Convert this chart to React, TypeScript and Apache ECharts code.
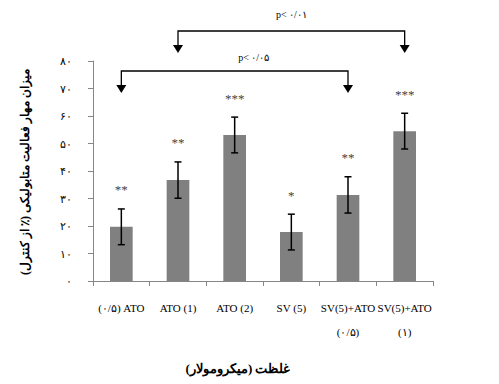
import React, { useEffect, useRef } from "react";
import * as echarts from "echarts";

const categories = ["\u200E(۰/۵) ATO", "ATO (1)", "ATO (2)", "SV (5)", "SV(5)+ATO\n\u200E(۰/۵)", "SV(5)+ATO\n\u200E(۱)"];
const means = [19.7, 36.7, 53.1, 17.8, 31.3, 54.5];
const errors = [6.5, 6.6, 6.5, 6.5, 6.6, 6.5];
const stars = ["**", "**", "***", "*", "**", "***"];
const yTickLabels = ["۰", "۱۰", "۲۰", "۳۰", "۴۰", "۵۰", "۶۰", "۷۰", "۸۰"];
const brackets = [
  { from: 1, to: 5, label: "p< ۰/۰۱", lineY: 31, textY: 14 },
  { from: 0, to: 4, label: "p< ۰/۰۵", lineY: 71, textY: 57 },
];
const yTitle = "میزان مهار فعالیت متابولیکی (٪ از کنترل)";
const xTitle = "غلظت (میکرومولار)";

const serif = "'Liberation Serif', 'DejaVu Serif', serif";

export default function App() {
  const ref = useRef<HTMLDivElement>(null);
  useEffect(() => {
    if (!ref.current) return;
    const chart = echarts.init(ref.current, undefined, { renderer: "svg" });
    chart.setOption({
      animation: false,
      backgroundColor: "#ffffff",
      grid: { left: 93, right: 66, top: 61, bottom: 103 },
      xAxis: {
        type: "category",
        data: categories,
        axisLine: { lineStyle: { color: "#868686", width: 1 } },
        axisTick: { show: true, length: 5, lineStyle: { color: "#868686" } },
        axisLabel: {
          interval: 0,
          margin: 15,
          fontFamily: serif,
          fontSize: 11,
          color: "#000",
          lineHeight: 24,
        },
      },
      yAxis: {
        type: "value",
        min: 0,
        max: 80,
        interval: 10,
        splitLine: { show: false },
        axisLine: { show: true, lineStyle: { color: "#868686", width: 1 } },
        axisTick: { show: true, length: 5, lineStyle: { color: "#868686" } },
        axisLabel: {
          margin: 21,
          fontFamily: serif,
          fontSize: 11,
          color: "#000",
          formatter: (v: number) => yTickLabels[Math.round(v / 10)] ?? String(v),
        },
      },
      series: [
        {
          type: "bar",
          data: means,
          barWidth: "40%",
          itemStyle: { color: "#808080" },
        },
        {
          type: "custom",
          data: means.map((m, i) => [i, m, errors[i]]),
          z: 10,
          renderItem: (params: any, api: any) => {
            const x = api.value(0);
            const m = api.value(1);
            const e = api.value(2);
            const top = api.coord([x, m + e]);
            const bot = api.coord([x, m - e]);
            const hw = 3.5;
            const style = { stroke: "#000", lineWidth: 1.5 };
            return {
              type: "group",
              children: [
                { type: "line", shape: { x1: top[0], y1: top[1], x2: bot[0], y2: bot[1] }, style },
                { type: "line", shape: { x1: top[0] - hw, y1: top[1], x2: top[0] + hw, y2: top[1] }, style },
                { type: "line", shape: { x1: bot[0] - hw, y1: bot[1], x2: bot[0] + hw, y2: bot[1] }, style },
                {
                  type: "text",
                  x: top[0],
                  y: top[1] - 19,
                  style: {
                    text: stars[params.dataIndex],
                    fontFamily: serif,
                    fontSize: 13,
                    fill: "#444",
                    align: "center",
                    verticalAlign: "middle",
                  },
                },
              ],
            };
          },
        },
      ],
    });

    const gfx: any[] = [];
    brackets.forEach((b) => {
      const x1 = chart.convertToPixel({ xAxisIndex: 0 }, b.from) as number;
      const x2 = chart.convertToPixel({ xAxisIndex: 0 }, b.to) as number;
      const tip = b.lineY + 22;
      const base = tip - 8;
      const ls = { stroke: "#000", lineWidth: 1.3 };
      gfx.push({ type: "polyline", shape: { points: [[x1, base], [x1, b.lineY], [x2, b.lineY], [x2, base]] }, style: { ...ls, fill: null } });
      [x1, x2].forEach((x) => {
        gfx.push({ type: "polygon", shape: { points: [[x - 5, base], [x + 5, base], [x, tip]] }, style: { fill: "#000" } });
      });
      gfx.push({
        type: "text",
        x: (x1 + x2) / 2 + (b.from === 0 ? 19 : 0),
        y: b.textY,
        style: { text: b.label, fontFamily: serif, fontSize: 10, fill: "#000", align: "center", verticalAlign: "middle" },
      });
    });
    gfx.push({
      type: "text",
      x: 25,
      y: 172,
      rotation: Math.PI / 2,
      style: { text: yTitle, fontFamily: serif, fontSize: 12, fontWeight: "bold", fill: "#000", align: "center", verticalAlign: "middle" },
    });
    gfx.push({
      type: "text",
      x: 238,
      y: 368,
      style: { text: xTitle, fontFamily: serif, fontSize: 13, fontWeight: "bold", fill: "#000", align: "center", verticalAlign: "middle" },
    });
    chart.setOption({ graphic: gfx });

    return () => chart.dispose();
  }, []);
  return <div ref={ref} style={{ position: "fixed", left: 0, top: 0, width: 499, height: 384 }} />;
}
